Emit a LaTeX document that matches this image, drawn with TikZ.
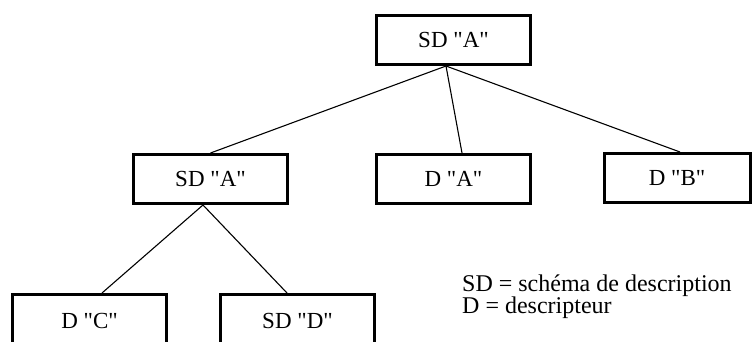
\documentclass[tikz,border=0pt]{standalone}
\usepackage{fontspec}
\setmainfont{Liberation Serif}[Ligatures=TeXOff]
\begin{document}
\begin{tikzpicture}[x=1pt,y=-1pt,
  box/.style={draw=black, line width=3pt, fill=white, minimum width=154pt, minimum height=49pt, inner sep=0pt, font=\fontsize{23}{26}\selectfont},
  tallbox/.style={box, minimum height=58pt},
  link/.style={draw=black, line width=1.1pt},
  legend/.style={anchor=base west, inner sep=0pt, font=\fontsize{24}{26}\selectfont}]
\clip (0,0) rectangle (753,341);
\fill[white] (0,0) rectangle (753,341);
\node[box] (top) at (453.5,40) {SD "A"};
\node[box] (mid) at (210.5,179) {SD "A"};
\node[box] (da) at (453.5,179) {D "A"};
\node[box, minimum width=146pt] (db) at (677,178) {D "B"};
\node[tallbox] (dc) at (89.5,323.5) {\raisebox{4.5pt}{D "C"}};
\node[tallbox] (sdd) at (297.5,323.5) {\raisebox{4.5pt}{SD "D"}};
\draw[link] ([xshift=-7.5pt]top.south) -- (mid.north);
\draw[link] ([xshift=-7.5pt]top.south) -- ([xshift=8.5pt]da.north);
\draw[link] ([xshift=-7.5pt]top.south) -- ([xshift=3pt]db.north);
\draw[link] ([xshift=-7.5pt]mid.south) -- ([xshift=12.5pt]dc.north);
\draw[link] ([xshift=-7.5pt]mid.south) -- ([xshift=-10.5pt]sdd.north);
\node[legend] (l1) at (462,291) {SD = schéma de description};
\node[legend] (l2) at (462,313) {D = descripteur};
\end{tikzpicture}
\end{document}
